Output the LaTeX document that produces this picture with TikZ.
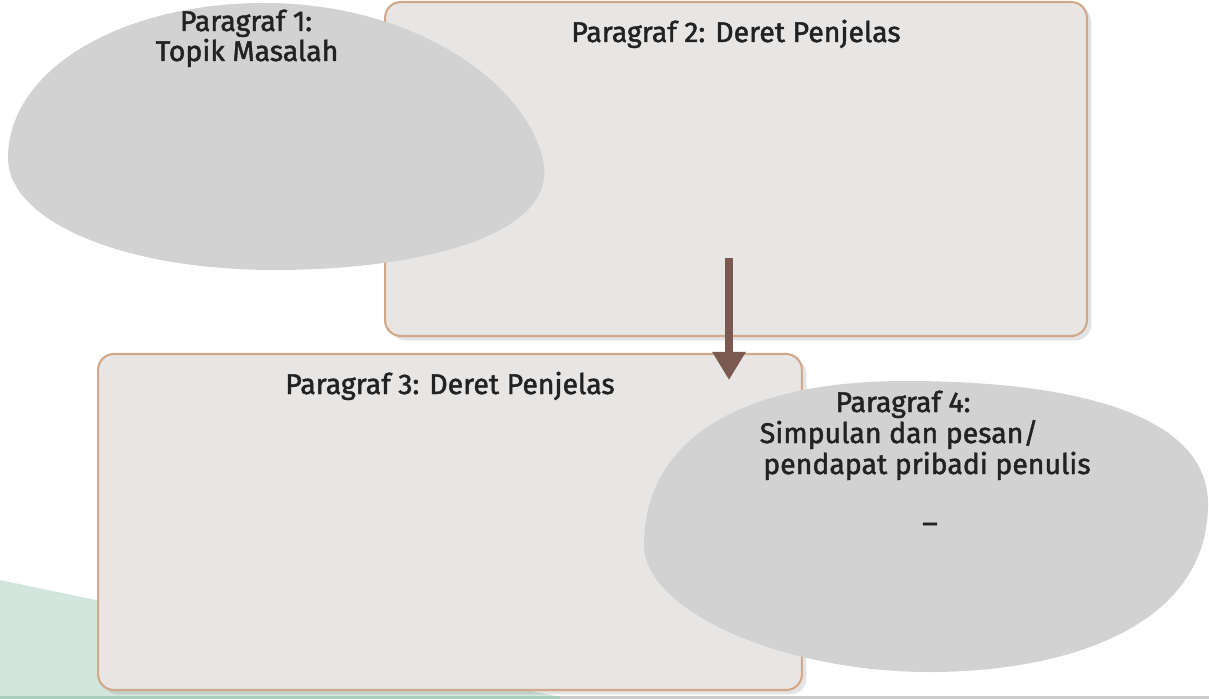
\documentclass[tikz,border=0pt]{standalone}
\usepackage{fontspec}
\setmainfont{Fira Sans}
\newfontfamily\lblfont{Fira Sans}[FakeBold=1.6]
\usetikzlibrary{shadows,arrows.meta}
\definecolor{boxfill}{HTML}{E8E6E4}
\definecolor{boxline}{HTML}{D2A88A}
\definecolor{blobfill}{HTML}{D2D2D2}
\definecolor{teal}{HTML}{D2E6DE}
\definecolor{tealdark}{HTML}{A9CDBF}
\definecolor{arrowc}{HTML}{7A5A50}
\definecolor{txt}{HTML}{222222}
\tikzset{
  panel/.style={draw=boxline, line width=1.2pt, fill=boxfill, rounded corners=9pt,
    drop shadow={opacity=0.22, shadow xshift=2.5pt, shadow yshift=-2.5pt}},
  blob/.style={fill=blobfill, draw=none},
  lbl/.style={text=txt, font=\lblfont\fontsize{16.2}{17}\selectfont, inner sep=0pt, anchor=base},
  flow/.style={draw=arrowc, line width=4.5pt, -{Triangle[length=16pt,width=18pt]}}
}
\begin{document}
\begin{tikzpicture}[x=0.02cm,y=-0.02cm]
\useasboundingbox (0,0) rectangle (1209,699);
\fill[white] (0,0) rectangle (1209,699);
% teal background wedge
\fill[teal] (0,580) -- (570,699) -- (0,699) -- cycle;
\fill[tealdark] (0,696) rectangle (560,699);
\fill[black!20] (560,696) rectangle (1209,699);
% box 2
\node[panel, minimum width=14.04cm, minimum height=6.68cm] (b2) at (736,169) {};
% blob 1
\path[blob] (265,3) .. controls (410,3) and (525,80) .. (543,160)
  .. controls (560,235) and (420,270) .. (275,270)
  .. controls (120,270) and (8,220) .. (8,158)
  .. controls (8,70) and (120,3) .. (265,3) -- cycle;
% box 3
\node[panel, minimum width=14.08cm, minimum height=6.72cm] (b3) at (450,522) {};
% blob 4
\path[blob] (905,381) .. controls (1090,381) and (1209,420) .. (1208,505)
  .. controls (1207,630) and (1060,672) .. (930,672)
  .. controls (780,672) and (644,610) .. (644,545)
  .. controls (644,440) and (740,381) .. (905,381) -- cycle;
% arrow
\coordinate (as) at (729,258);
\coordinate (ae) at (729,380);
\draw[flow] (as) -- (ae);
% labels
\node[lbl] (t1a) at (246,31) {Paragraf 1:};
\node[lbl] (t1b) at (247,61) {Topik Masalah};
\node[lbl] (t2) at (736,42) {Paragraf 2: Deret Penjelas};
\node[lbl] (t3) at (450,394) {Paragraf 3: Deret Penjelas};
\node[lbl] (t4a) at (903,412) {Paragraf 4:};
\node[lbl] (t4b) at (899,443) {Simpulan dan pesan/};
\node[lbl] (t4c) at (927,474) {pendapat pribadi penulis};
\node[lbl] (t5) at (930,521) {\_};
\end{tikzpicture}
\end{document}
